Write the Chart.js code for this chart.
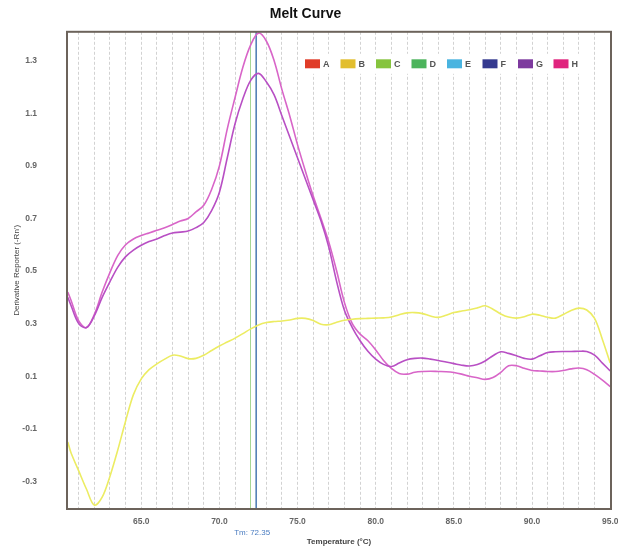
<!DOCTYPE html>
<html>
<head>
<meta charset="utf-8">
<script src="https://cdn.jsdelivr.net/npm/chart.js@4/dist/chart.umd.min.js"></script>
<style>
  html, body { margin: 0; padding: 0; background: #ffffff; }
  #wrap { width: 618px; height: 548px; }
</style>
</head>
<body>
<div id="wrap"><canvas id="melt" width="618" height="548"></canvas></div>
<script>
// Temperature steps (°C) shared by every well
const temps = [
  60.3, 60.5, 61.0, 61.5, 62.0, 62.5, 63.0, 63.5, 64.0, 64.5,
  65.0, 65.5, 66.0, 66.5, 67.0, 67.5, 68.0, 68.5, 69.0, 69.5,
  70.0, 70.5, 71.0, 71.5, 72.0, 72.5, 73.0, 73.5, 74.0, 74.5,
  75.0, 75.5, 76.0, 76.5, 77.0, 77.5, 78.0, 78.5, 79.0, 79.5,
  80.0, 80.5, 81.0, 81.5, 82.0, 82.5, 83.0, 83.5, 84.0, 84.5,
  85.0, 85.5, 86.0, 86.5, 87.0, 87.5, 88.0, 88.5, 89.0, 89.5,
  90.0, 90.5, 91.0, 91.5, 92.0, 92.5, 93.0, 93.5, 94.0, 94.5,
  95.0
];

// Derivative reporter (-Rn') per well
const wellB = [
  -0.15, -0.19, -0.26, -0.33, -0.39, -0.36, -0.28, -0.18, -0.07, 0.03,
  0.09, 0.125, 0.147, 0.165, 0.18, 0.177, 0.167, 0.168, 0.18, 0.198,
  0.215, 0.23, 0.245, 0.262, 0.28, 0.295, 0.304, 0.308, 0.31, 0.314,
  0.32, 0.32, 0.312, 0.298, 0.296, 0.305, 0.313, 0.317, 0.319, 0.32,
  0.321, 0.322, 0.325, 0.334, 0.341, 0.342, 0.338, 0.329, 0.324, 0.332,
  0.342, 0.348, 0.353, 0.36, 0.368, 0.355, 0.337, 0.325, 0.321, 0.326,
  0.336, 0.332, 0.324, 0.321, 0.335, 0.35, 0.359, 0.352, 0.32, 0.24,
  0.15
];
const wellG = [
  0.40, 0.37, 0.30, 0.285, 0.33, 0.40, 0.46, 0.515, 0.555, 0.58,
  0.598, 0.612, 0.622, 0.635, 0.645, 0.648, 0.652, 0.665, 0.685, 0.73,
  0.80, 0.93, 1.06, 1.155, 1.225, 1.252, 1.22, 1.17, 1.09, 1.01,
  0.93, 0.85, 0.77, 0.69, 0.59, 0.46, 0.35, 0.285, 0.235, 0.195,
  0.165, 0.145, 0.137, 0.15, 0.163, 0.168, 0.169, 0.165, 0.16, 0.154,
  0.148, 0.142, 0.139, 0.145, 0.158, 0.178, 0.193, 0.187, 0.178, 0.168,
  0.165, 0.178, 0.19, 0.193, 0.194, 0.194, 0.195, 0.194, 0.18, 0.15,
  0.12
];
const wellH = [
  0.42, 0.39, 0.31, 0.285, 0.335, 0.42, 0.495, 0.56, 0.60, 0.622,
  0.635, 0.645, 0.655, 0.665, 0.677, 0.69, 0.70, 0.725, 0.75, 0.81,
  0.90, 1.04, 1.16, 1.275, 1.36, 1.405, 1.375, 1.30, 1.19, 1.09,
  0.98, 0.88, 0.785, 0.70, 0.61, 0.50, 0.38, 0.30, 0.26, 0.235,
  0.20, 0.16, 0.13, 0.11, 0.108, 0.115, 0.118, 0.119, 0.118, 0.117,
  0.114, 0.108, 0.10, 0.094, 0.088, 0.095, 0.115, 0.14, 0.14, 0.13,
  0.122, 0.12, 0.118, 0.118, 0.122, 0.128, 0.131, 0.125, 0.107, 0.085,
  0.06
];

const wellNames = ['A', 'B', 'C', 'D', 'E', 'F', 'G', 'H'];
const wellSeries = [null, wellB, null, null, null, null, wellG, wellH];

// Melting temperatures marked on the plot
const tmValue = 72.35;
const tmSecond = 71.95;

// Axis ticks
const yTickValues = [-0.3, -0.1, 0.1, 0.3, 0.5, 0.7, 0.9, 1.1, 1.3];
const xLabelValues = [65, 70, 75, 80, 85, 90, 95];
const xGridValues = [61, 62, 63, 64, 65, 66, 67, 68, 69, 70, 71, 72, 73, 74, 75, 76, 77, 78,
  79, 80, 81, 82, 83, 84, 85, 86, 87, 88, 89, 90, 91, 92, 93, 94, 95];

const swatchColors = ['#e03c28', '#e2be2e', '#86c43e', '#4cb45c', '#4ab4e0', '#34398f', '#7d3a9e', '#e0247e'];
const lineColors   = ['#e03c28', '#ecec62', '#86c43e', '#4cb45c', '#4ab4e0', '#34398f', '#b84fc4', '#d865c8'];

const toPoints = (vals) => vals ? temps.map((t, i) => ({ x: t, y: vals[i] })) : [];

const datasets = wellNames.map((name, i) => ({
  label: name,
  data: toPoints(wellSeries[i]),
  borderColor: lineColors[i],
  backgroundColor: swatchColors[i],
  borderWidth: 1.6,
  pointRadius: 0,
  tension: 0.35,
  fill: false
}));

// Tm markers, Tm label, plot frame and in-plot legend
const meltDecor = {
  id: 'meltDecor',
  beforeDatasetsDraw(chart) {
    const { ctx, chartArea: a, scales: { x } } = chart;
    ctx.save();
    const xg = x.getPixelForValue(tmSecond);
    ctx.strokeStyle = '#a6d694';
    ctx.lineWidth = 1;
    ctx.beginPath(); ctx.moveTo(Math.round(xg) + 0.5, a.top); ctx.lineTo(Math.round(xg) + 0.5, a.bottom); ctx.stroke();
    const xt = x.getPixelForValue(tmValue);
    ctx.strokeStyle = '#2c62a6';
    ctx.lineWidth = 1.3;
    ctx.beginPath(); ctx.moveTo(xt, a.top); ctx.lineTo(xt, a.bottom); ctx.stroke();
    ctx.restore();
  },
  afterDatasetsDraw(chart) {
    const { ctx, chartArea: a, scales: { x } } = chart;
    ctx.save();
    // legend strip
    const lx0 = a.right - 306;
    ctx.fillStyle = '#ffffff';
    ctx.fillRect(lx0 - 6, a.top + 22, 290, 20);
    chart.data.datasets.forEach((ds, i) => {
      const bx = lx0 + i * 35.5;
      const by = a.top + 27.5;
      ctx.fillStyle = ds.backgroundColor;
      ctx.fillRect(bx, by, 15, 9);
      ctx.fillStyle = '#555555';
      ctx.font = 'bold 9px "Liberation Sans", Arial, sans-serif';
      ctx.textAlign = 'left';
      ctx.textBaseline = 'middle';
      ctx.fillText(ds.label, bx + 18, by + 5);
    });
    // frame
    ctx.strokeStyle = '#6c635b';
    ctx.lineWidth = 2;
    ctx.strokeRect(a.left, a.top, a.right - a.left, a.bottom - a.top);
    // Tm label
    ctx.fillStyle = '#4a7cc0';
    ctx.font = '8px "Liberation Sans", Arial, sans-serif';
    ctx.textAlign = 'center';
    ctx.textBaseline = 'middle';
    ctx.fillText('Tm: ' + tmValue.toFixed(2), x.getPixelForValue(tmValue) - 4, 533);
    ctx.restore();
  }
};

const tickFont = { family: '"Liberation Sans", Arial, sans-serif', size: 8.5, weight: 'bold' };

new Chart(document.getElementById('melt'), {
  type: 'line',
  data: { datasets },
  options: {
    responsive: false,
    animation: false,
    devicePixelRatio: 1,
    layout: { padding: { left: 0, right: 7, top: 0, bottom: 0 } },
    plugins: {
      legend: { display: false },
      tooltip: { enabled: false },
      title: {
        display: true,
        text: 'Melt Curve',
        color: '#111111',
        font: { family: '"Liberation Sans", Arial, sans-serif', size: 14, weight: 'bold' },
        padding: { top: 6, bottom: 9 }
      }
    },
    scales: {
      x: {
        type: 'linear',
        min: 60.25,
        max: 95.05,
        afterBuildTicks: (s) => { s.ticks = xGridValues.map(v => ({ value: v })); },
        afterFit: (s) => { s.height = 39; s.paddingLeft = 0; s.paddingRight = 0; },
        grid: {
          color: '#d2d2d2',
          lineWidth: 1,
          drawTicks: false
        },
        border: { display: false, dash: [3, 2] },
        ticks: {
          padding: 8,
          color: '#666666',
          font: tickFont,
          maxRotation: 0,
          autoSkip: false,
          callback: (v) => xLabelValues.includes(v) ? v.toFixed(1) : ''
        },
        title: {
          display: true,
          text: 'Temperature (°C)',
          color: '#444444',
          font: { family: '"Liberation Sans", Arial, sans-serif', size: 8, weight: 'bold' },
          padding: { top: 0, bottom: 1 }
        }
      },
      y: {
        type: 'linear',
        min: -0.405,
        max: 1.41,
        afterBuildTicks: (s) => { s.ticks = yTickValues.map(v => ({ value: v })); },
        afterFit: (s) => { s.width = 67; s.paddingTop = 0; s.paddingBottom = 0; },
        grid: { display: false },
        border: { display: false },
        ticks: {
          padding: 22,
          color: '#666666',
          font: tickFont,
          callback: (v) => v.toFixed(1)
        },
        title: {
          display: true,
          text: 'Derivative Reporter (-Rn\')',
          color: '#444444',
          font: { family: '"Liberation Sans", Arial, sans-serif', size: 8 },
          padding: { top: 12, bottom: 0 }
        }
      }
    }
  },
  plugins: [meltDecor]
});
</script>
</body>
</html>
